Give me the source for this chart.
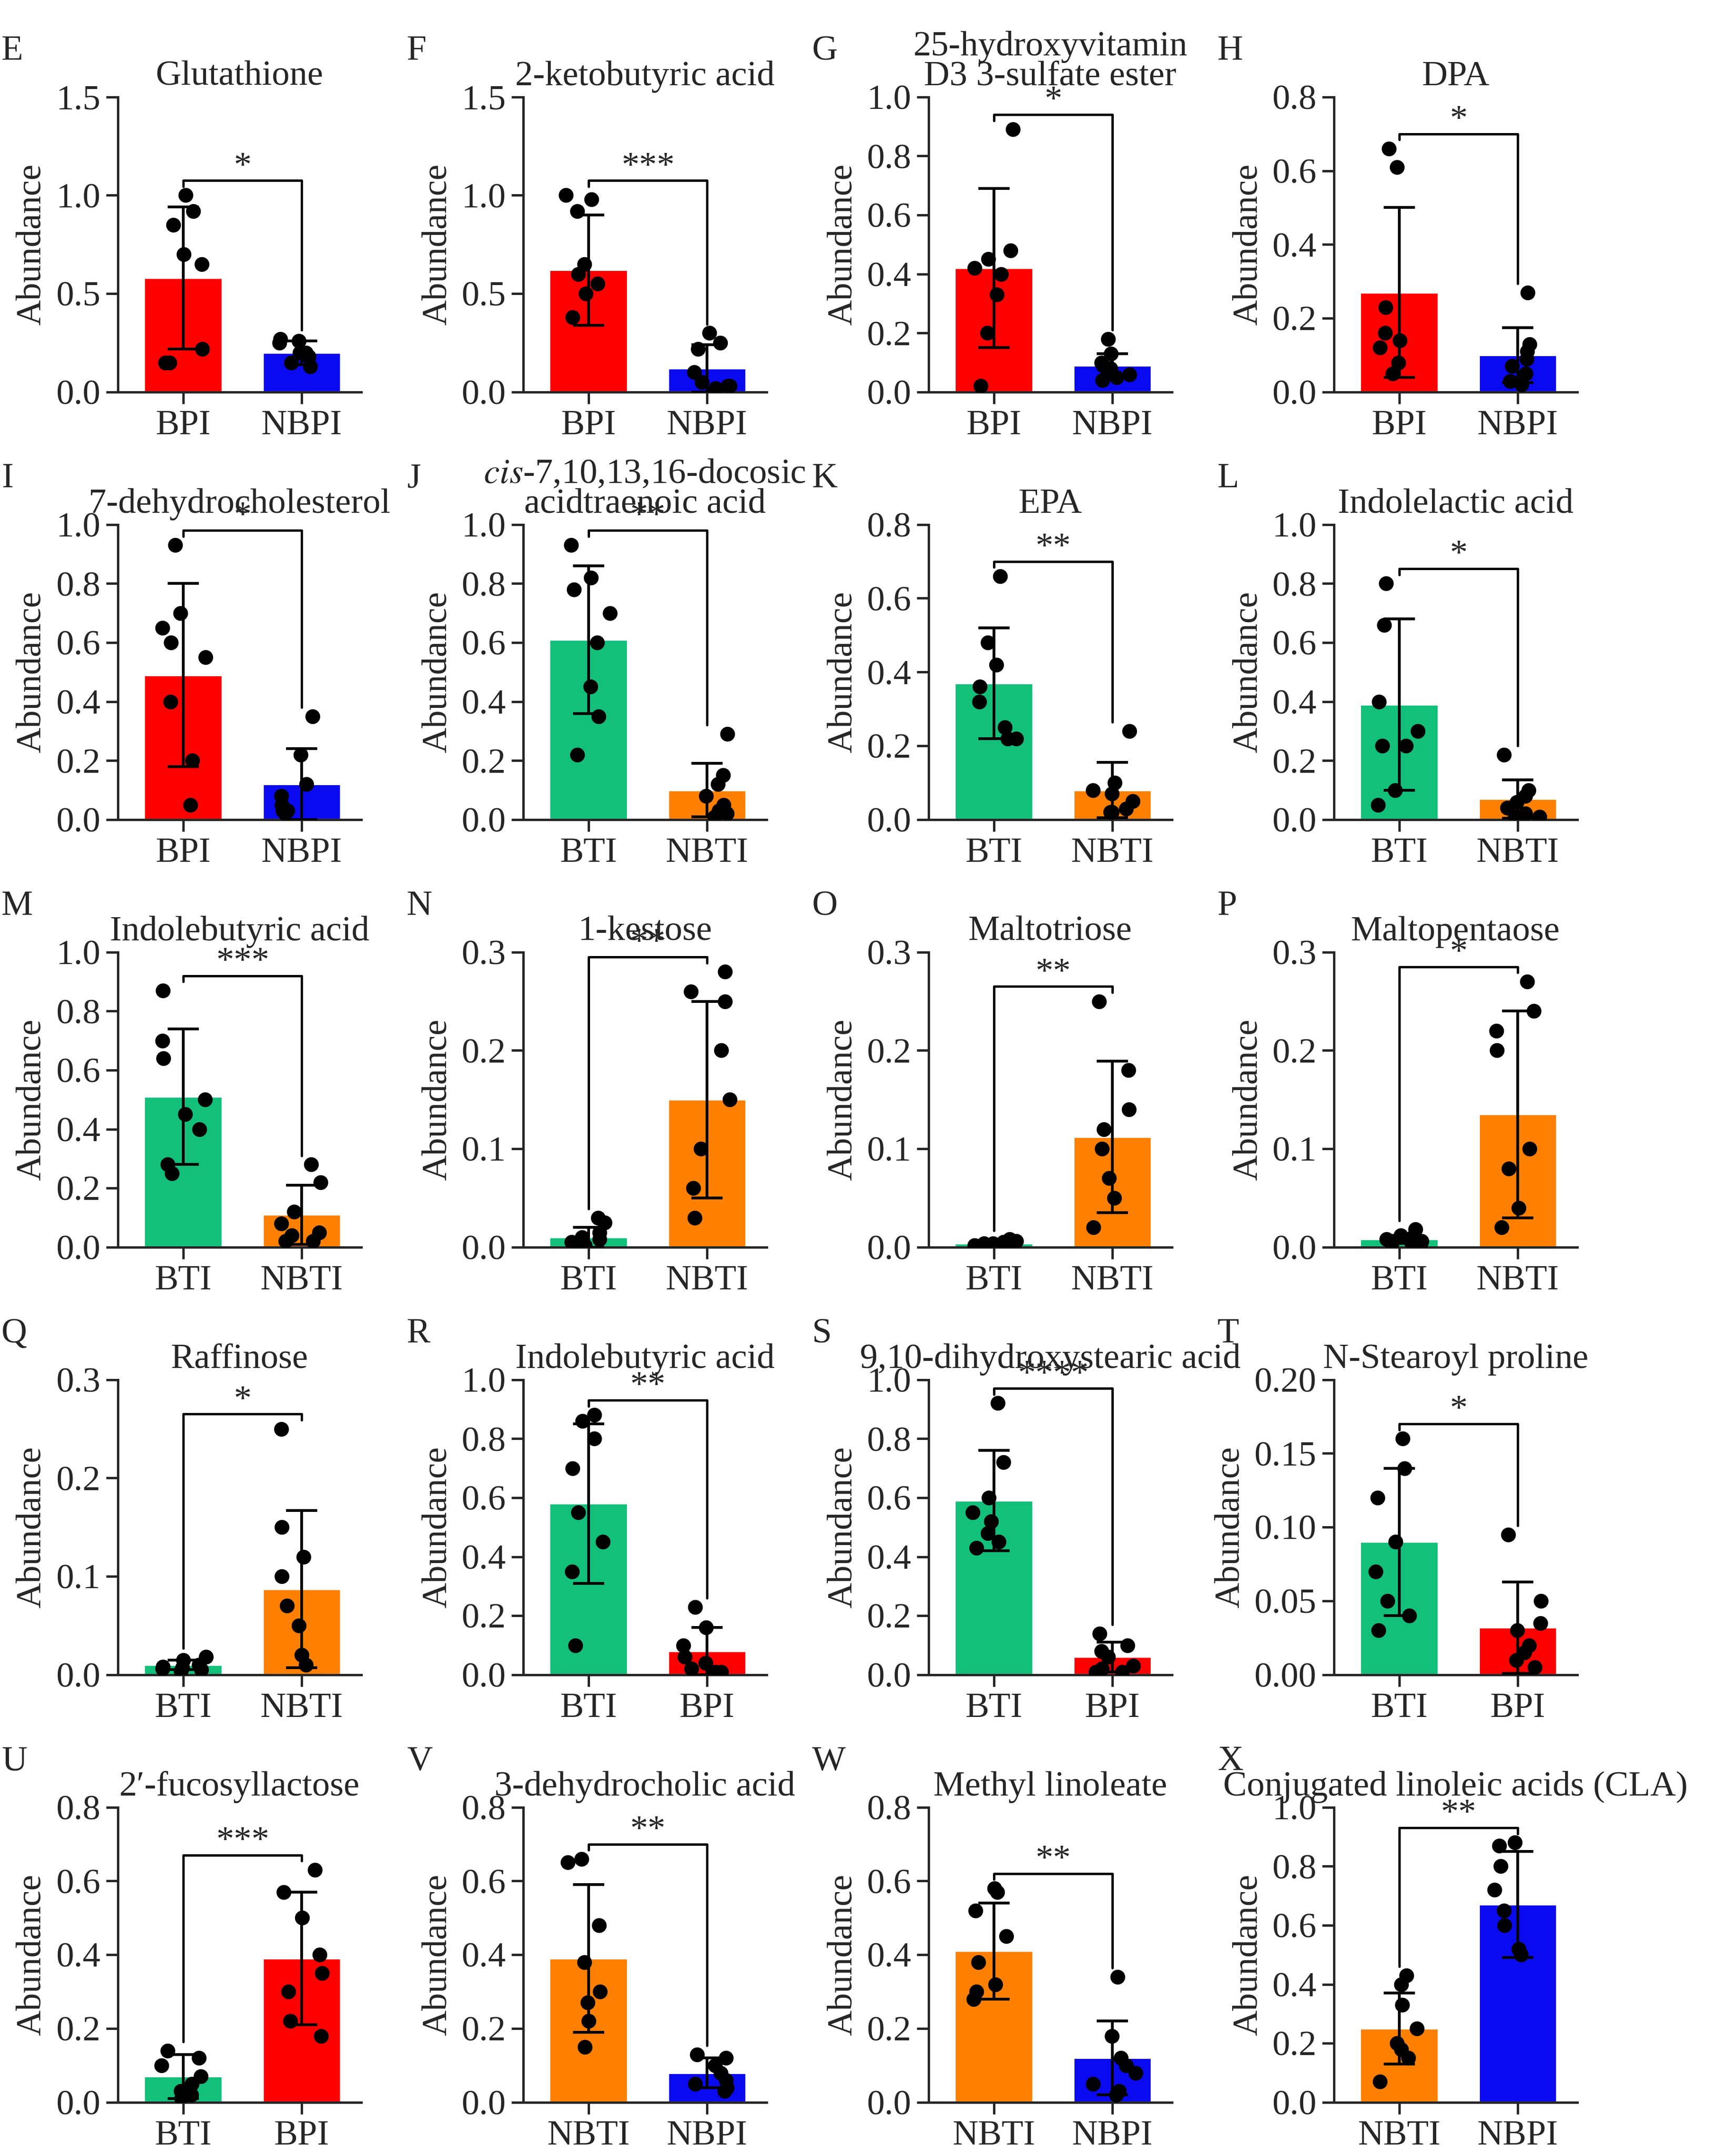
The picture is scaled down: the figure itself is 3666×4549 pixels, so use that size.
import numpy as np, pandas as pd, matplotlib
matplotlib.use("Agg")
import matplotlib.pyplot as plt, seaborn as sns

sns.set_theme(style="ticks")
plt.rcParams['font.family'] = ['Liberation Serif', 'DejaVu Serif']
plt.rcParams['mathtext.fontset'] = 'stix'

RED, BLUE, GREEN, ORANGE = "#FF0000", "#0A0AF0", "#12C07A", "#FF8000"
COL = {"BPI": RED, "NBPI": BLUE, "BTI": GREEN, "NBTI": ORANGE}

letters = list("EFGHIJKLMNOPQRSTUVWX")
titles = ["Glutathione", "2-ketobutyric acid", "25-hydroxyvitamin\nD3 3-sulfate ester", "DPA",
          "7-dehydrocholesterol", "$\\it{cis}$-7,10,13,16-docosic\nacidtraenoic acid", "EPA", "Indolelactic acid",
          "Indolebutyric acid", "1-kestose", "Maltotriose", "Maltopentaose",
          "Raffinose", "Indolebutyric acid", "9,10-dihydroxystearic acid", "N-Stearoyl proline",
          "2\u2032-fucosyllactose", "3-dehydrocholic acid", "Methyl linoleate", "Conjugated linoleic acids (CLA)"]
groups = [("BPI","NBPI")]*5 + [("BTI","NBTI")]*8 + [("BTI","BPI")]*4 + [("NBTI","NBPI")]*3
ymax = [1.5,1.5,1.0,0.8, 1.0,1.0,0.8,1.0, 1.0,0.3,0.3,0.3, 0.3,1.0,1.0,0.2, 0.8,0.8,0.8,1.0]
ystep = [0.5,0.5,0.2,0.2, 0.2,0.2,0.2,0.2, 0.2,0.1,0.1,0.1, 0.1,0.2,0.2,0.05, 0.2,0.2,0.2,0.2]
sig = ["*","***","*","*", "*","**","**","*", "***","**","**","*", "*","**","****","*", "***","**","**","**"]
means = [(0.58,0.20),(0.62,0.12),(0.42,0.09),(0.27,0.10),
         (0.49,0.12),(0.61,0.10),(0.37,0.08),(0.39,0.07),
         (0.51,0.11),(0.01,0.15),(0.004,0.112),(0.008,0.135),
         (0.01,0.087),(0.58,0.08),(0.59,0.06),(0.09,0.032),
         (0.07,0.39),(0.39,0.08),(0.41,0.12),(0.25,0.67)]
sds = [(0.36,0.06),(0.28,0.12),(0.27,0.04),(0.23,0.075),
       (0.31,0.12),(0.25,0.09),(0.15,0.075),(0.29,0.065),
       (0.23,0.10),(0.01,0.10),(0.002,0.077),(0.004,0.105),
       (0.005,0.08),(0.27,0.08),(0.17,0.05),(0.05,0.031),
       (0.06,0.18),(0.20,0.04),(0.13,0.10),(0.12,0.18)]
points = [
 ([1.0,0.92,0.85,0.70,0.65,0.22,0.15,0.15],[0.27,0.26,0.25,0.20,0.18,0.15,0.13,0.20]),
 ([1.0,0.98,0.92,0.65,0.60,0.55,0.50,0.38],[0.30,0.25,0.22,0.10,0.05,0.03,0.03,0.02]),
 ([0.89,0.48,0.45,0.42,0.40,0.33,0.20,0.02],[0.18,0.13,0.10,0.09,0.08,0.06,0.05,0.04]),
 ([0.66,0.61,0.23,0.16,0.14,0.12,0.08,0.05],[0.27,0.13,0.11,0.09,0.07,0.05,0.03,0.02]),
 ([0.93,0.70,0.65,0.60,0.55,0.40,0.20,0.05],[0.35,0.22,0.12,0.08,0.05,0.03,0.02,0.03]),
 ([0.93,0.82,0.78,0.70,0.60,0.45,0.35,0.22],[0.29,0.15,0.12,0.08,0.05,0.03,0.01,0.02]),
 ([0.66,0.48,0.42,0.36,0.32,0.25,0.22,0.22],[0.24,0.10,0.08,0.07,0.05,0.03,0.02,0.02]),
 ([0.80,0.66,0.40,0.30,0.25,0.25,0.10,0.05],[0.22,0.10,0.08,0.06,0.04,0.02,0.01,0.01]),
 ([0.87,0.70,0.64,0.50,0.45,0.40,0.28,0.25],[0.28,0.22,0.12,0.08,0.05,0.04,0.02,0.02]),
 ([0.03,0.025,0.015,0.01,0.008,0.005,0.003,0.002],[0.28,0.26,0.25,0.20,0.15,0.10,0.06,0.03]),
 ([0.008,0.006,0.005,0.004,0.004,0.003,0.003,0.002],[0.25,0.18,0.14,0.12,0.10,0.07,0.05,0.02]),
 ([0.018,0.012,0.010,0.008,0.006,0.005,0.004,0.003],[0.27,0.24,0.22,0.20,0.10,0.08,0.04,0.02]),
 ([0.018,0.015,0.010,0.008,0.007,0.006,0.005,0.004],[0.25,0.15,0.12,0.10,0.07,0.05,0.02,0.01]),
 ([0.88,0.86,0.80,0.70,0.55,0.45,0.35,0.10],[0.23,0.16,0.10,0.06,0.04,0.02,0.01,0.01]),
 ([0.92,0.72,0.60,0.55,0.52,0.48,0.45,0.43],[0.14,0.10,0.08,0.06,0.03,0.02,0.01,0.01]),
 ([0.16,0.14,0.12,0.09,0.07,0.05,0.04,0.03],[0.095,0.05,0.035,0.03,0.02,0.015,0.01,0.005]),
 ([0.14,0.12,0.10,0.07,0.05,0.03,0.02,0.01],[0.63,0.57,0.50,0.40,0.35,0.30,0.22,0.18]),
 ([0.66,0.65,0.48,0.38,0.30,0.27,0.22,0.15],[0.13,0.12,0.10,0.08,0.06,0.05,0.04,0.03]),
 ([0.58,0.57,0.52,0.45,0.38,0.32,0.30,0.28],[0.34,0.18,0.12,0.10,0.08,0.05,0.03,0.02]),
 ([0.43,0.40,0.33,0.25,0.20,0.18,0.15,0.07],[0.88,0.87,0.80,0.72,0.65,0.60,0.52,0.50]),
]

fig = plt.figure(figsize=(3666/300, 4549/300), dpi=300)
FS = 18
np.random.seed(3)
L0, W, DX = 0.068, 0.140, 0.2335
B0, H, DY = 0.024, 0.137, 0.1985
for i in range(20):
    r, c = divmod(i, 4)
    ax = fig.add_axes([L0 + c*DX, B0 + (4-r)*DY, W, H])
    g = groups[i]
    df = pd.DataFrame({"g": list(g), "m": list(means[i])})
    sns.barplot(data=df, x="g", y="m", hue="g", palette=[COL[g[0]], COL[g[1]]], order=list(g),
                width=0.66, errorbar=None, legend=False, ax=ax, saturation=1)
    ax.errorbar([0,1], means[i], yerr=sds[i], fmt="none", ecolor="black", elinewidth=1.4, capsize=8, capthick=1.4, zorder=3)
    pdf = pd.DataFrame({"g": [g[0]]*8 + [g[1]]*8, "v": points[i][0] + points[i][1]})
    sns.stripplot(data=pdf, x="g", y="v", order=list(g), color="black", size=7.5, jitter=0.2, ax=ax, zorder=4)
    ym = ymax[i]
    top = max(max(points[i][0]), max(points[i][1]), means[i][0]+sds[i][0], means[i][1]+sds[i][1])
    by = min(top + 0.05*ym, 1.0*ym)
    ax.plot([0,0,1,1], [max(points[i][0]+[means[i][0]+sds[i][0]])+0.03*ym, by, by, max(points[i][1]+[means[i][1]+sds[i][1]])+0.03*ym],
            color="black", lw=1.2, clip_on=False)
    ax.text(0.5, by - 0.01*ym, sig[i], ha="center", va="bottom", fontsize=FS, clip_on=False)
    ax.set_ylim(0, ym)
    ticks = np.round(np.arange(0, ym + 1e-9, ystep[i]), 3)
    ax.set_yticks(ticks)
    ax.set_yticklabels(["%.2f" % t for t in ticks] if ystep[i] < 0.1 else ["%.1f" % t for t in ticks])
    ax.set_xlim(-0.55, 1.5)
    ax.set_xlabel(""); ax.set_ylabel("Abundance", fontsize=FS, labelpad=4)
    ax.tick_params(labelsize=FS, width=1.2, length=6, pad=3)
    for s in ["top","right"]: ax.spines[s].set_visible(False)
    for s in ["left","bottom"]: ax.spines[s].set_linewidth(1.2)
    ax.set_title(titles[i], fontsize=FS, pad=6, linespacing=0.9)
    ax.text(-0.48, 1.10, letters[i], transform=ax.transAxes, fontsize=FS, va="bottom")
fig.savefig("out.png", dpi=300)
